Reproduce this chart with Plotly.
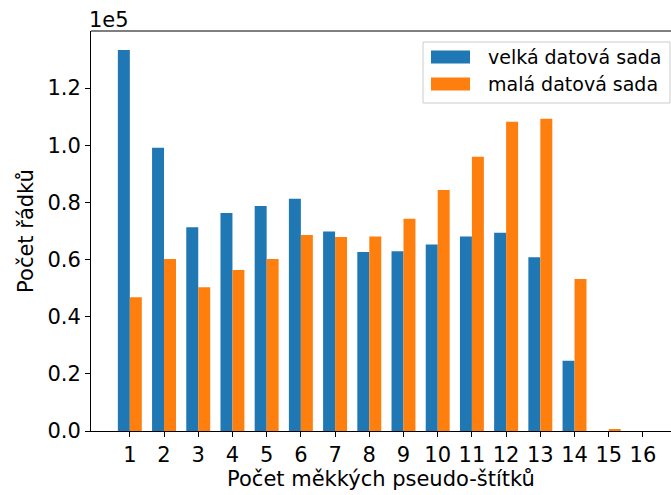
import plotly.graph_objects as go

# Number of soft pseudo-labels per row
pocty = list(range(1, 17))
tick_labels = [str(v) for v in pocty]

# Row counts for each dataset
velka = [133300, 99100, 71300, 76300, 78700, 81300, 69800, 62600,
         62900, 65300, 68100, 69400, 60800, 24600, 0, 0]
mala = [46800, 60200, 50300, 56300, 60200, 68600, 67900, 68100,
        74300, 84300, 96000, 108200, 109300, 53200, 500, 0]
series_names = ["velká datová sada", "malá datová sada"]

y_ticks = [0, 20000, 40000, 60000, 80000, 100000, 120000]
y_tick_labels = ["0.0", "0.2", "0.4", "0.6", "0.8", "1.0", "1.2"]

BLUE = "#1f77b4"
ORANGE = "#ff7f0e"
FONT = "DejaVu Sans"
W = 0.35

# plot area in pixels
L, T, PW, PH = 91, 31, 580, 400


def px(x):
    return (x - L) / PW


def py(y):
    return 1 - (y - T) / PH


fig = go.Figure()
fig.add_trace(go.Bar(x=pocty, y=velka, name=series_names[0],
                     marker=dict(color=BLUE, line=dict(width=0)),
                     width=W, offset=-W))
fig.add_trace(go.Bar(x=pocty, y=mala, name=series_names[1],
                     marker=dict(color=ORANGE, line=dict(width=0)),
                     width=W, offset=0))

ymax = max(max(velka), max(mala)) * 1.05

fig.update_layout(
    width=671, height=495,
    margin=dict(l=L, r=671 - L - PW, t=T, b=495 - T - PH),
    plot_bgcolor="white", paper_bgcolor="white",
    font=dict(family=FONT, size=21, color="black"),
    showlegend=False,
    xaxis=dict(range=[-0.135, 16.82], tickmode="array", tickvals=pocty,
               ticktext=tick_labels, ticks="outside", ticklen=5,
               tickwidth=1, tickcolor="black", showgrid=False,
               zeroline=False, showline=True, linecolor="black",
               linewidth=1, tickfont=dict(size=21),
               title=dict(text="Počet měkkých pseudo-štítků",
                          font=dict(size=21), standoff=3)),
    yaxis=dict(range=[0, ymax], tickmode="array", tickvals=y_ticks,
               ticktext=y_tick_labels, ticks="outside", ticklen=5,
               tickwidth=1, tickcolor="black", showgrid=False,
               zeroline=False, showline=True, linecolor="black",
               linewidth=1, tickfont=dict(size=21),
               title=dict(text="Počet řádků", font=dict(size=21),
                          standoff=8)),
)

# top spine
fig.add_shape(type="line", xref="paper", yref="paper", x0=0, x1=1,
              y0=1, y1=1, line=dict(color="black", width=1))

# axis multiplier label
fig.add_annotation(text="1e5", xref="paper", yref="paper", x=0, y=1,
                   xanchor="left", yanchor="bottom", showarrow=False,
                   font=dict(size=21), yshift=-3, xshift=-4)

# legend box with wide colour patches
fig.add_shape(type="rect", xref="paper", yref="paper",
              x0=px(423), x1=px(670), y0=py(103), y1=py(42),
              line=dict(color="#cccccc", width=1),
              fillcolor="rgba(255,255,255,0.8)", layer="above")
for name, color, cy in zip(series_names, [BLUE, ORANGE], [57, 84]):
    fig.add_shape(type="rect", xref="paper", yref="paper",
                  x0=px(431), x1=px(470), y0=py(cy + 6.5), y1=py(cy - 6.5),
                  line=dict(width=0), fillcolor=color, layer="above")
    fig.add_annotation(text=name, xref="paper", yref="paper",
                       x=px(486), y=py(cy), xanchor="left", yanchor="middle",
                       showarrow=False, font=dict(size=19))

fig.write_html("out.html")
